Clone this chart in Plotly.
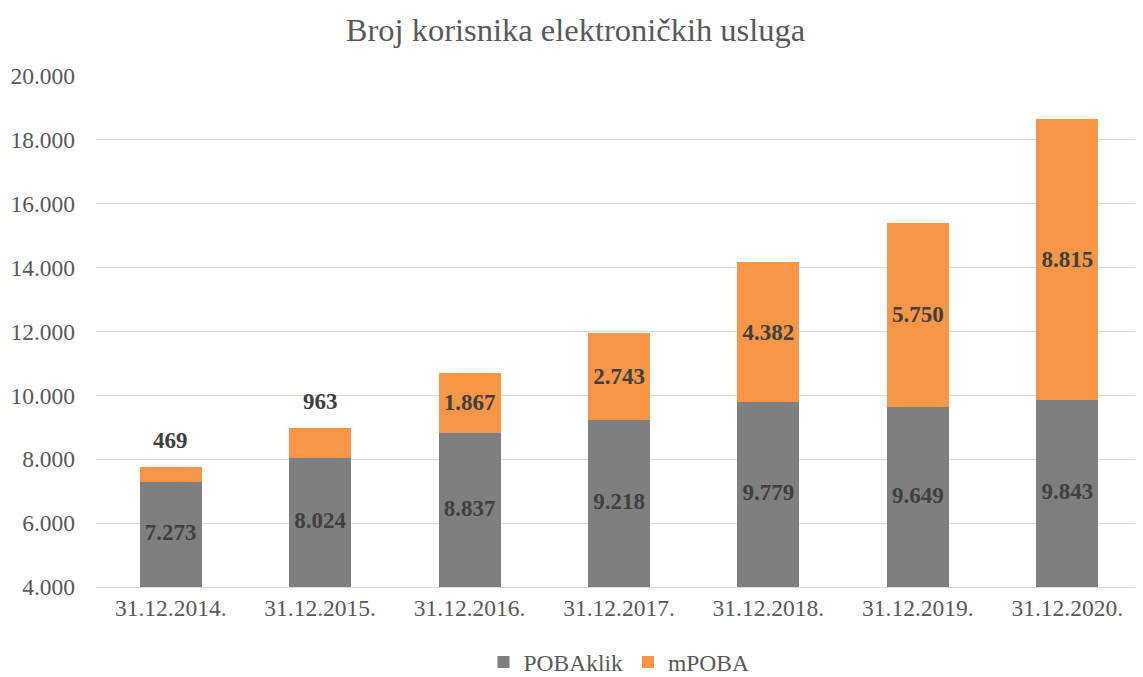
import plotly.graph_objects as go

categories = ["31.12.2014.", "31.12.2015.", "31.12.2016.", "31.12.2017.",
              "31.12.2018.", "31.12.2019.", "31.12.2020."]
pobaklik = [7273, 8024, 8837, 9218, 9779, 9649, 9843]
mpoba = [469, 963, 1867, 2743, 4382, 5750, 8815]
y_ticks = [4000, 6000, 8000, 10000, 12000, 14000, 16000, 18000, 20000]
y_min, y_max = 4000, 20000
outside_idx = [0, 1]  # mPOBA labels shown above the bar


def fmt(v):
    return f"{v:,}".replace(",", ".")


FONT = "Liberation Serif, Times New Roman, serif"
LBL = dict(family=FONT, size=23, color="#404040")
TICK = dict(family=FONT, size=23.5, color="#595959")

fig = go.Figure()
fig.add_trace(go.Bar(
    x=categories, y=pobaklik, name="POBAklik",
    marker=dict(color="#7f7f7f", line=dict(width=0)),
    textposition="none", hoverinfo="x+y",
))
fig.add_trace(go.Bar(
    x=categories, y=mpoba, name="mPOBA",
    marker=dict(color="#f79646", line=dict(width=0)),
    text=["" if i in outside_idx else "<b>" + fmt(v) + "</b>" for i, v in enumerate(mpoba)],
    textposition="inside", insidetextanchor="middle", textangle=0,
    textfont=LBL, insidetextfont=LBL, hoverinfo="x+y",
))
# POBAklik labels centred in the visible part of each grey segment
fig.add_trace(go.Scatter(
    x=categories, y=[(y_min + v) / 2 for v in pobaklik], mode="text",
    text=["<b>" + fmt(v) + "</b>" for v in pobaklik], textposition="middle center",
    textfont=LBL, showlegend=False, hoverinfo="skip",
))
for i in outside_idx:
    fig.add_annotation(x=categories[i], y=pobaklik[i] + mpoba[i],
                       text="<b>" + fmt(mpoba[i]) + "</b>", showarrow=False,
                       yanchor="bottom", yshift=12, font=LBL)

# page body has an 8px margin, so the figure is drawn 8px in from the corner
fig.update_layout(
    barmode="stack",
    bargap=0.585,
    width=1135, height=669,
    margin=dict(l=88, r=1, t=68, b=90, autoexpand=False),
    paper_bgcolor="white", plot_bgcolor="white",
    title=dict(text="Broj korisnika elektroničkih usluga", x=0.5, xanchor="center",
               y=0.967, yanchor="middle",
               font=dict(family=FONT, size=32.5, color="#595959")),
    font=dict(family=FONT, size=23.5, color="#595959"),
    legend=dict(orientation="h", x=0.5, xanchor="center", y=-0.147, yanchor="middle",
                font=TICK, itemwidth=30, traceorder="normal"),
    showlegend=True,
)
fig.update_yaxes(range=[y_min, y_max], tickvals=y_ticks,
                 ticktext=[fmt(v) for v in y_ticks],
                 showgrid=True, gridcolor="#d9d9d9", gridwidth=1.3,
                 zeroline=False, showline=False, ticks="", ticklabelstandoff=20,
                 tickfont=TICK)
fig.update_xaxes(showgrid=False, showline=True, linecolor="#d9d9d9", linewidth=1.3,
                 ticks="", tickfont=TICK)

fig.write_html("out.html")
